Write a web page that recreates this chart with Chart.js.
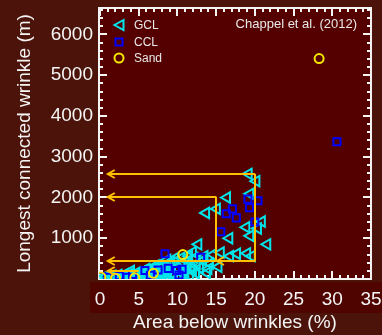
<!DOCTYPE html>
<html><head><meta charset="utf-8">
<script src="https://cdn.jsdelivr.net/npm/chart.js@4/dist/chart.umd.min.js"></script>
<style>html,body{margin:0;padding:0;background:#4b1309;overflow:hidden}</style>
</head><body>
<canvas id="c" width="382" height="335"></canvas>
<script>
// ---- data ----
const gclX = [0.3,0.8,1.2,1.6,2.0,2.4,2.8,3.2,3.6,4.0,4.3,4.8,5.2,5.5,5.9,6.3,6.6,7.0,7.3,7.7,8.0,8.3,8.6,9.0,9.3,9.7,9.9,10.3,10.6,11.0,11.4,11.8,12.2,12.5,12.9,13.3,13.8,14.2,14.6,15.3,15.6,12.7,16.8,17.7,19.0,19.6,19.4,21.6,16.7,18.9,20.4,20.9,13.7,15.1,16.4,19.4,19.2,20.2,3.0,6.0,8.5,11.0,1.0,4.5,7.5,10.0,
  1.5,2.5,3.5,5.0,5.5,6.5,7.0,7.8,8.2,8.8,9.5,10.0,10.8,11.2,11.6,12.0,12.4,9.2,10.5,11.5,8.7,13.5,14.0,12.0,6.0,7.2,4.0];
const gclY = [30,60,20,80,40,100,60,120,30,140,70,160,40,190,110,220,60,260,150,300,90,330,200,370,120,510,280,60,400,180,450,300,520,380,270,460,150,380,600,300,650,850,560,620,630,560,1060,850,1000,1270,1240,1410,1620,1720,2000,2090,2580,2400,10,30,60,110,10,20,40,20,
  5,15,10,80,15,130,20,180,40,140,60,230,120,300,80,220,140,430,520,560,470,560,250,660,250,330,200];
const cclX = [0.2,1.0,2.5,3.5,4.2,5.8,6.5,7.5,8.8,9.9,10.2,8.4,10.6,13.0,15.6,16.3,17.1,17.6,19.1,20.4,19.3,20.0,30.6];
const cclY = [60,40,80,40,110,210,90,220,260,210,100,620,240,530,1160,1600,1720,1500,1960,1920,1750,1400,3370];
const sandX = [0.1,2.0,4.5,6.9,10.7,28.3];
const sandY = [50,20,30,140,600,5410];
const seriesNames = ['GCL','CCL','Sand'];
const xTickValues = [0,5,10,15,20,25,30,35];
const yTickValues = [1000,2000,3000,4000,5000,6000];
// arrows (data units): horizontal segments pointing left, and vertical connectors
const arrowFromX = [20, 15, 15, 20, 5];
const arrowToX   = [1, 1, 1, 15.1, 1];
const arrowY     = [2580, 2020, 430, 430, 200];
const vLineX  = [15, 20];
const vLineY1 = [2020, 2580];
const vLineY2 = [430, 430];
const sourceNote = 'Chappel et al. (2012)';

const pts = (xs, ys) => xs.map((x, i) => ({x, y: ys[i]}));
const CYAN = '#00e4ea', BLUE = '#0000ff', YEL = '#f5e600', GOLD = '#ffc000';
const OUTER = '#4b1309', PLOT = '#550000', BAND = '#4f0400', WHITE = '#f4f4f4';

const decor = {
  id: 'decor',
  beforeDraw(chart) {
    const {ctx, chartArea: ca} = chart;
    ctx.save();
    ctx.fillStyle = OUTER; ctx.fillRect(0, 0, chart.width, chart.height);
    ctx.fillStyle = BAND; ctx.fillRect(90, 282, chart.width - 90, 31);
    ctx.fillStyle = PLOT; ctx.fillRect(ca.left, ca.top, ca.right - ca.left, ca.bottom - ca.top);
    ctx.restore();
  },
  beforeDatasetsDraw(chart) {
    const {ctx, chartArea: ca, scales: {x: xa, y: ya}} = chart;
    ctx.save();
    ctx.strokeStyle = WHITE; ctx.lineWidth = 2;
    ctx.beginPath();
    for (let v = 0; v <= 35; v++) {
      const px = Math.round(xa.getPixelForValue(v));
      const len = v % 5 === 0 ? 8 : 4;
      ctx.moveTo(px, ca.bottom); ctx.lineTo(px, ca.bottom - len);
      ctx.moveTo(px, ca.top); ctx.lineTo(px, ca.top + len);
    }
    for (let v = 0; v <= 6600; v += 200) {
      const py = Math.round(ya.getPixelForValue(v));
      const len = v % 1000 === 0 ? 8 : 4;
      ctx.moveTo(ca.left, py); ctx.lineTo(ca.left + len, py);
      ctx.moveTo(ca.right, py); ctx.lineTo(ca.right - len, py);
    }
    ctx.stroke();
    ctx.strokeRect(ca.left, ca.top, ca.right - ca.left, ca.bottom - ca.top);
    ctx.restore();
  },
  afterDatasetsDraw(chart) {
    const {ctx, chartArea: ca, scales: {x: xa, y: ya}} = chart;
    ctx.save();
    ctx.strokeStyle = GOLD; ctx.lineWidth = 2;
    ctx.beginPath();
    arrowY.forEach((yv, i) => {
      const y = Math.round(ya.getPixelForValue(yv));
      const x1 = xa.getPixelForValue(arrowFromX[i]);
      const x2 = xa.getPixelForValue(arrowToX[i]);
      ctx.moveTo(x1, y); ctx.lineTo(x2, y);
      ctx.moveTo(x2 + 7, y - 4); ctx.lineTo(x2, y); ctx.lineTo(x2 + 7, y + 4);
    });
    vLineX.forEach((xv, i) => {
      const x = Math.round(xa.getPixelForValue(xv));
      ctx.moveTo(x, ya.getPixelForValue(vLineY1[i]));
      ctx.lineTo(x, ya.getPixelForValue(vLineY2[i]));
    });
    ctx.stroke();
    // legend
    const lx = 119, rows = [25, 42, 58];
    ctx.lineWidth = 2;
    chart.data.datasets.forEach((ds, i) => {
      const y = rows[i];
      ctx.strokeStyle = ds.borderColor;
      ctx.beginPath();
      if (i === 0) { ctx.moveTo(lx + 4.5, y - 5); ctx.lineTo(lx - 4.5, y); ctx.lineTo(lx + 4.5, y + 5); ctx.closePath(); }
      else if (i === 1) { ctx.rect(lx - 3.5, y - 3.5, 7, 7); }
      else { ctx.arc(lx, y, 4.5, 0, Math.PI * 2); }
      ctx.stroke();
      ctx.fillStyle = '#e8e8e8';
      ctx.font = '12px "Liberation Sans", Arial, sans-serif';
      ctx.textBaseline = 'middle'; ctx.textAlign = 'left';
      ctx.fillText(ds.label, 134, y + 1);
    });
    ctx.font = '13px "Liberation Sans", Arial, sans-serif';
    ctx.textAlign = 'right';
    ctx.fillText(sourceNote, 357, 24);
    ctx.restore();
  }
};

const zeroPad = s => { s.paddingTop = 0; s.paddingBottom = 0; s.paddingLeft = 0; s.paddingRight = 0; };
const F = '"Liberation Sans", Arial, sans-serif';
new Chart(document.getElementById('c'), {
  type: 'scatter',
  data: {
    datasets: [
      {label: seriesNames[0], order: 2, data: pts(gclX, gclY), pointStyle: 'triangle', rotation: -90, radius: 6, borderColor: CYAN, backgroundColor: 'rgba(0,0,0,0)', borderWidth: 2},
      {label: seriesNames[1], order: 1, data: pts(cclX, cclY), pointStyle: 'rect', radius: 5, borderColor: BLUE, backgroundColor: 'rgba(0,0,0,0)', borderWidth: 2},
      {label: seriesNames[2], order: 0, data: pts(sandX, sandY), pointStyle: 'circle', radius: 4.5, borderColor: YEL, backgroundColor: 'rgba(0,0,0,0)', borderWidth: 2}
    ]
  },
  options: {
    responsive: false, animation: false, devicePixelRatio: 1,
    layout: {padding: {left: 0, right: 11, top: 5, bottom: 0}},
    plugins: {legend: {display: false}, tooltip: {enabled: false}},
    scales: {
      x: {
        type: 'linear', min: -0.13, max: 35,
        afterBuildTicks: s => { s.ticks = xTickValues.map(v => ({value: v})); },
        afterFit: s => { s.height = 56; zeroPad(s); },
        grid: {display: false, drawTicks: false}, border: {display: false},
        ticks: {color: WHITE, font: {family: F, size: 19}, padding: 9, maxRotation: 0, autoSkip: false, callback: v => String(v)},
        title: {display: true, text: 'Area below wrinkles (%)', color: WHITE, font: {family: F, size: 19}, padding: {top: 0, bottom: 1}}
      },
      y: {
        type: 'linear', min: 0, max: 6650,
        afterBuildTicks: s => { s.ticks = yTickValues.map(v => ({value: v})); },
        afterFit: s => { s.width = 99; zeroPad(s); },
        grid: {display: false, drawTicks: false}, border: {display: false},
        ticks: {color: WHITE, font: {family: F, size: 19}, padding: 6, callback: v => String(v)},
        title: {display: true, text: 'Longest connected wrinkle (m)', color: WHITE, font: {family: F, size: 19}, padding: {top: 13, bottom: 0}}
      }
    }
  },
  plugins: [decor]
});
</script>
</body></html>
